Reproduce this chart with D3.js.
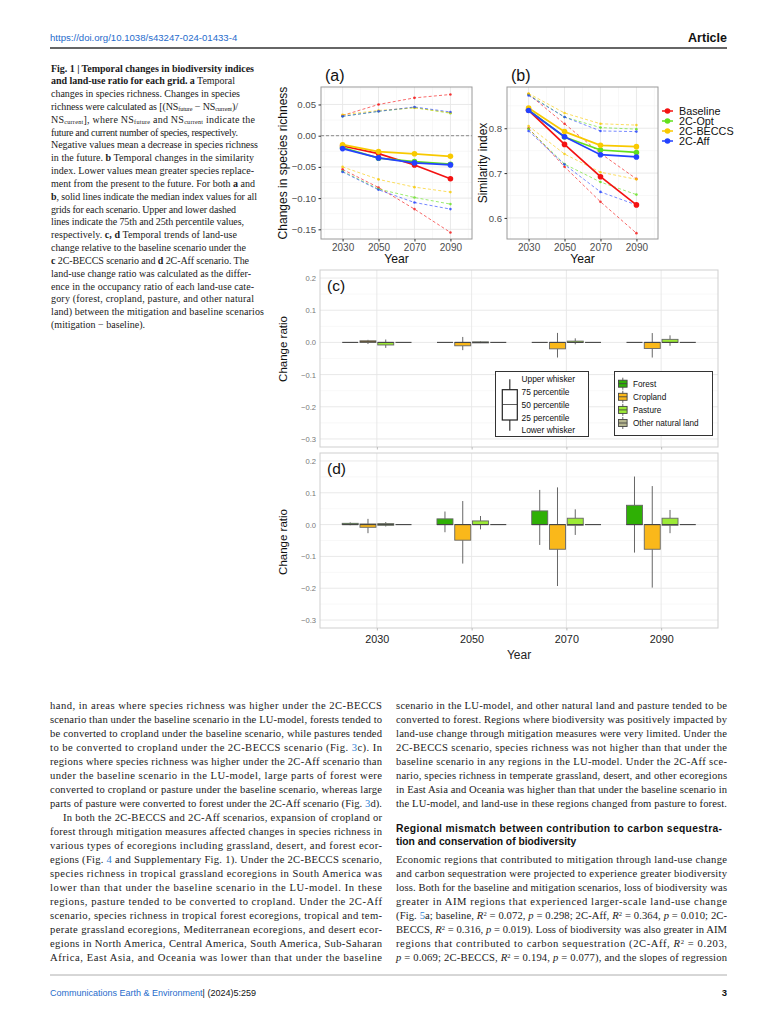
<!DOCTYPE html>
<html><head><meta charset="utf-8">
<script src="https://cdn.jsdelivr.net/npm/d3@7"></script>
<style>body{margin:0;background:#fff}svg{display:block}</style>
</head><body><svg id="page" width="771" height="1024"></svg>
<script>
// ---------------- DATA ----------------
const years = [2030, 2050, 2070, 2090];
const scenarios = ["Baseline", "2C-Opt", "2C-BECCS", "2C-Aff"];
const scenarioColors = ["#f41212", "#62e01c", "#f8c900", "#2342ff"];

// (a) changes in species richness: median, 75th, 25th percentile
const richMedian = {
  "Baseline": [-0.0165, -0.0287, -0.047, -0.069],
  "2C-Opt":   [-0.019, -0.036, -0.0415, -0.0457],
  "2C-BECCS": [-0.0144, -0.0255, -0.029, -0.033],
  "2C-Aff":   [-0.0207, -0.0356, -0.0436, -0.0468]
};
const richUpper = {
  "Baseline": [0.0324, 0.050, 0.0606, 0.066],
  "2C-Opt":   [0.031, 0.039, 0.045, 0.036],
  "2C-BECCS": [0.0335, 0.0404, 0.0447, 0.0367],
  "2C-Aff":   [0.031, 0.039, 0.046, 0.038]
};
const richLower = {
  "Baseline": [-0.054, -0.083, -0.1176, -0.155],
  "2C-Opt":   [-0.057, -0.0856, -0.099, -0.1096],
  "2C-BECCS": [-0.050, -0.070, -0.0824, -0.0904],
  "2C-Aff":   [-0.058, -0.0867, -0.107, -0.1176]
};
// (b) similarity index
const simMedian = {
  "Baseline": [0.840, 0.764, 0.692, 0.629],
  "2C-Opt":   [0.841, 0.7806, 0.7515, 0.746],
  "2C-BECCS": [0.845, 0.7925, 0.762, 0.759],
  "2C-Aff":   [0.8395, 0.781, 0.741, 0.736]
};
const simUpper = {
  "Baseline": [0.876, 0.810, 0.744, 0.687],
  "2C-Opt":   [0.875, 0.825, 0.8015, 0.798],
  "2C-BECCS": [0.8776, 0.834, 0.810, 0.807],
  "2C-Aff":   [0.873, 0.825, 0.794, 0.7925]
};
const simLower = {
  "Baseline": [0.800, 0.714, 0.636, 0.566],
  "2C-Opt":   [0.7985, 0.720, 0.680, 0.652],
  "2C-BECCS": [0.805, 0.7425, 0.702, 0.686],
  "2C-Aff":   [0.794, 0.719, 0.658, 0.629]
};
const richTicks = [-0.15, -0.10, -0.05, 0.00, 0.05];
const simTicks = [0.6, 0.7, 0.8];
const ratioTicks = [0.2, 0.1, 0.0, -0.1, -0.2, -0.3];

// (c),(d) land-use change ratio boxplots: [lower whisker, q1, median, q3, upper whisker]
const landTypes = ["Forest", "Cropland", "Pasture", "Other natural land"];
const landColors = ["#2fb005", "#fab81a", "#9cea36", "#b5b58e"];
const beccsForest   = [[0,0,0,0,0],[0,0,0,0,0],[0,0,0,0,0],[0,0,0,0,0]];
const beccsCropland = [[-0.005,0,0.002,0.005,0.008],[-0.024,-0.0105,0,0,0.017],[-0.047,-0.020,0,0,0.0295],[-0.047,-0.019,0,0,0.029]];
const beccsPasture  = [[-0.017,-0.008,0,0,0.009],[-0.002,-0.0015,0,0.0015,0.003],[-0.006,0,0,0.004,0.0126],[-0.0105,0,0,0.0095,0.022]];
const beccsOther    = [[0,0,0,0,0],[0,0,0,0,0],[0,0,0,0,0],[0,0,0,0,0]];
const affForest     = [[-0.002,0,0,0.004,0.007],[-0.024,0,0,0.018,0.041],[-0.064,0,0,0.043,0.109],[-0.088,0,0,0.0607,0.151]];
const affCropland   = [[-0.027,-0.0085,0,0.002,0.018],[-0.1225,-0.049,0,0,0.074],[-0.193,-0.0775,0,0,0.117],[-0.198,-0.0775,0,0,0.121]];
const affPasture    = [[-0.006,-0.002,0,0.003,0.008],[-0.015,0,0,0.0115,0.027],[-0.0325,-0.002,0,0.02,0.048],[-0.027,-0.002,0,0.02,0.046]];
const affOther      = [[0,0,0,0,0],[0,0,0,0,0],[0,0,0,0,0],[0,0,0,0,0]];
const boxLegendLabels = ["Upper whisker", "75 percentile", "50 percentile", "25 percentile", "Lower whisker"];

// ---------------- TEXT ----------------
const captionLines = [
  [["Fig. 1 | Temporal changes in biodiversity indices","b"]],
  [["and land-use ratio for each grid. a","b"],[" Temporal",""]],
  [["changes in species richness. Changes in species",""]],
  [["richness were calculated as [(NS",""],["future","sub"],[" − NS",""],["current","sub"],[")/",""]],
  [["NS",""],["current","sub"],["], where NS",""],["future","sub"],[" and NS",""],["current","sub"],[" indicate the",""]],
  [["future and current number of species, respectively.",""]],
  [["Negative values mean a decrease in species richness",""]],
  [["in the future. ",""],["b","b"],[" Temporal changes in the similarity",""]],
  [["index. Lower values mean greater species replace-",""]],
  [["ment from the present to the future. For both ",""],["a","b"],[" and",""]],
  [["b","b"],[", solid lines indicate the median index values for all",""]],
  [["grids for each scenario. Upper and lower dashed",""]],
  [["lines indicate the 75th and 25th percentile values,",""]],
  [["respectively. ",""],["c, d","b"],[" Temporal trends of land-use",""]],
  [["change relative to the baseline scenario under the",""]],
  [["c","b"],[" 2C-BECCS scenario and ",""],["d","b"],[" 2C-Aff scenario. The",""]],
  [["land-use change ratio was calculated as the differ-",""]],
  [["ence in the occupancy ratio of each land-use cate-",""]],
  [["gory (forest, cropland, pasture, and other natural",""]],
  [["land) between the mitigation and baseline scenarios",""]],
  [["(mitigation − baseline).",""]]
];
const captionWidths = [203,184,189,187,204,187,207,203,203,204,206,185,193,186,195,198,200,203,203,213,94];

const leftLines = [
  [["hand, in areas where species richness was higher under the 2C-BECCS",""]],
  [["scenario than under the baseline scenario in the LU-model, forests tended to",""]],
  [["be converted to cropland under the baseline scenario, while pastures tended",""]],
  [["to be converted to cropland under the 2C-BECCS scenario (Fig. ",""],["3","link"],["c). In",""]],
  [["regions where species richness was higher under the 2C-Aff scenario than",""]],
  [["under the baseline scenario in the LU-model, large parts of forest were",""]],
  [["converted to cropland or pasture under the baseline scenario, whereas large",""]],
  [["parts of pasture were converted to forest under the 2C-Aff scenario (Fig. ",""],["3","link"],["d).",""]],
  [["In both the 2C-BECCS and 2C-Aff scenarios, expansion of cropland or",""]],
  [["forest through mitigation measures affected changes in species richness in",""]],
  [["various types of ecoregions including grassland, desert, and forest ecor-",""]],
  [["egions (Fig. ",""],["4","link"],[" and Supplementary Fig. 1). Under the 2C-BECCS scenario,",""]],
  [["species richness in tropical grassland ecoregions in South America was",""]],
  [["lower than that under the baseline scenario in the LU-model. In these",""]],
  [["regions, pasture tended to be converted to cropland. Under the 2C-Aff",""]],
  [["scenario, species richness in tropical forest ecoregions, tropical and tem-",""]],
  [["perate grassland ecoregions, Mediterranean ecoregions, and desert ecor-",""]],
  [["egions in North America, Central America, South America, Sub-Saharan",""]],
  [["Africa, East Asia, and Oceania was lower than that under the baseline",""]]
];
const rightTopLines = [
  [["scenario in the LU-model, and other natural land and pasture tended to be",""]],
  [["converted to forest. Regions where biodiversity was positively impacted by",""]],
  [["land-use change through mitigation measures were very limited. Under the",""]],
  [["2C-BECCS scenario, species richness was not higher than that under the",""]],
  [["baseline scenario in any regions in the LU-model. Under the 2C-Aff sce-",""]],
  [["nario, species richness in temperate grassland, desert, and other ecoregions",""]],
  [["in East Asia and Oceania was higher than that under the baseline scenario in",""]],
  [["the LU-model, and land-use in these regions changed from pasture to forest.",""]]
];
const headingLines = ["Regional mismatch between contribution to carbon sequestra-", "tion and conservation of biodiversity"];
const rightBottomLines = [
  [["Economic regions that contributed to mitigation through land-use change",""]],
  [["and carbon sequestration were projected to experience greater biodiversity",""]],
  [["loss. Both for the baseline and mitigation scenarios, loss of biodiversity was",""]],
  [["greater in AIM regions that experienced larger-scale land-use change",""]],
  [["(Fig. ",""],["5","link"],["a; baseline, ",""],["R","i"],["2","sup"],[" = 0.072, ",""],["p","i"],[" = 0.298; 2C-Aff, ",""],["R","i"],["2","sup"],[" = 0.364, ",""],["p","i"],[" = 0.010; 2C-",""]],
  [["BECCS, ",""],["R","i"],["2","sup"],[" = 0.316, ",""],["p","i"],[" = 0.019). Loss of biodiversity was also greater in AIM",""]],
  [["regions that contributed to carbon sequestration (2C-Aff, ",""],["R","i"],["2","sup"],[" = 0.203,",""]],
  [["p","i"],[" = 0.069; 2C-BECCS, ",""],["R","i"],["2","sup"],[" = 0.194, ",""],["p","i"],[" = 0.077), and the slopes of regression",""]]
];

// ---------------- DRAW ----------------
const svg = d3.select("#page");
const SANS = "'Liberation Sans', Arial, Helvetica, sans-serif";
const SERIF = "'Liberation Serif', 'Times New Roman', serif";
const LINK = "#2f7fd3";

function richLine(parent, x, y, segs, size, width, opts = {}) {
  const t = parent.append("text").attr("x", x).attr("y", y)
    .attr("font-family", opts.family || SERIF).attr("font-size", size).attr("fill", "#1a1a1a");
  if (width) t.attr("textLength", width).attr("lengthAdjust", "spacing");
  segs.forEach(([s, c]) => {
    const ts = t.append("tspan").text(s);
    if (c === "b") ts.attr("font-weight", "bold");
    if (c === "i") ts.attr("font-style", "italic");
    if (c === "link") ts.attr("fill", LINK);
    if (c === "sub") ts.attr("font-size", size * 0.62).attr("baseline-shift", "-18%");
    if (c === "sup") ts.attr("font-size", size * 0.62).attr("baseline-shift", "38%");
  });
  return t;
}

// Header
svg.append("text").attr("x", 50).attr("y", 41).attr("font-family", SANS).attr("font-size", 9.6)
  .attr("fill", "#1f6ccc").text("https://doi.org/10.1038/s43247-024-01433-4");
svg.append("text").attr("x", 727).attr("y", 42).attr("text-anchor", "end").attr("font-family", SANS)
  .attr("font-size", 12.5).attr("font-weight", "bold").attr("fill", "#111").text("Article");
svg.append("line").attr("x1", 50).attr("x2", 727).attr("y1", 48).attr("y2", 48).attr("stroke", "#333").attr("stroke-width", 1.4);

// Caption
captionLines.forEach((segs, i) => richLine(svg, 51, 71.5 + i * 12.83, segs, 10, captionWidths[i]));

// Body
leftLines.forEach((segs, i) => {
  const indent = i === 8 ? 13 : 0;
  richLine(svg, 50 + indent, 708.5 + i * 14, segs, 10.6, 332 - indent);
});
rightTopLines.forEach((segs, i) => richLine(svg, 396, 708.5 + i * 14, segs, 10.6, 331));
headingLines.forEach((s, i) => {
  const t = svg.append("text").attr("x", 396).attr("y", 832 + i * 13.4).attr("font-family", SANS)
    .attr("font-size", 10.3).attr("font-weight", "bold").attr("fill", "#111").text(s);
  if (i === 0) t.attr("textLength", 326).attr("lengthAdjust", "spacing");
});
rightBottomLines.forEach((segs, i) => richLine(svg, 396, 862.5 + i * 14, segs, 10.6, 331));

// Footer
svg.append("line").attr("x1", 50).attr("x2", 727).attr("y1", 975).attr("y2", 975).attr("stroke", "#9a9a9a").attr("stroke-width", 0.8);
const ft = svg.append("text").attr("x", 50).attr("y", 996).attr("font-family", SANS).attr("font-size", 9);
ft.append("tspan").attr("fill", "#1f6ccc").text("Communications Earth & Environment");
ft.append("tspan").attr("fill", "#111").text("| (2024)5:259");
svg.append("text").attr("x", 727).attr("y", 996).attr("text-anchor", "end").attr("font-family", SANS)
  .attr("font-size", 9.5).attr("font-weight", "bold").attr("fill", "#111").text("3");

// ---------- line panels (a), (b) ----------
function linePanel(cfg) {
  const x = d3.scaleLinear().domain([2018, 2102]).range([cfg.x0, cfg.x1]);
  const y = d3.scaleLinear().domain(cfg.yd).range([cfg.y1, cfg.y0]);
  const g = svg.append("g");
  const minorX = [2020, 2040, 2060, 2080, 2100];
  g.selectAll(".mx").data(minorX).join("line").attr("x1", x).attr("x2", x).attr("y1", cfg.y0).attr("y2", cfg.y1)
    .attr("stroke", "#f3f3f3").attr("stroke-width", 0.6);
  g.selectAll(".my").data(cfg.minorY).join("line").attr("y1", y).attr("y2", y).attr("x1", cfg.x0).attr("x2", cfg.x1)
    .attr("stroke", "#f3f3f3").attr("stroke-width", 0.6);
  g.selectAll(".gx").data(years).join("line").attr("x1", x).attr("x2", x).attr("y1", cfg.y0).attr("y2", cfg.y1)
    .attr("stroke", "#e6e6e6").attr("stroke-width", 0.9);
  g.selectAll(".gy").data(cfg.ticks).join("line").attr("y1", y).attr("y2", y).attr("x1", cfg.x0).attr("x2", cfg.x1)
    .attr("stroke", "#e6e6e6").attr("stroke-width", 0.9);
  if (cfg.zeroLine) {
    g.append("line").attr("x1", cfg.x0).attr("x2", cfg.x1).attr("y1", y(0)).attr("y2", y(0))
      .attr("stroke", "#8a8a8a").attr("stroke-width", 1).attr("stroke-dasharray", "3,2");
  }
  const lineGen = d3.line().x((d, i) => x(years[i])).y(d => y(d));
  scenarios.forEach((s, k) => {
    [cfg.upper[s], cfg.lower[s]].forEach(vals => {
      g.append("path").attr("d", lineGen(vals)).attr("fill", "none").attr("stroke", scenarioColors[k])
        .attr("stroke-width", 0.9).attr("stroke-dasharray", "3,2.2").attr("opacity", 0.7);
      g.selectAll(null).data(vals).join("circle").attr("cx", (d, i) => x(years[i])).attr("cy", d => y(d))
        .attr("r", 1.3).attr("fill", scenarioColors[k]).attr("opacity", 0.8);
    });
  });
  scenarios.forEach((s, k) => {
    const vals = cfg.median[s];
    g.append("path").attr("d", lineGen(vals)).attr("fill", "none").attr("stroke", scenarioColors[k]).attr("stroke-width", 1.7);
    g.selectAll(null).data(vals).join("circle").attr("cx", (d, i) => x(years[i])).attr("cy", d => y(d))
      .attr("r", 2.8).attr("fill", scenarioColors[k]);
  });
  g.append("rect").attr("x", cfg.x0).attr("y", cfg.y0).attr("width", cfg.x1 - cfg.x0).attr("height", cfg.y1 - cfg.y0)
    .attr("fill", "none").attr("stroke", "#9a9a9a").attr("stroke-width", 1);
  const ay = g.append("g").attr("transform", `translate(${cfg.x0},0)`)
    .call(d3.axisLeft(y).tickValues(cfg.ticks).tickFormat(cfg.fmt).tickSize(2.5).tickPadding(2.5));
  const ax = g.append("g").attr("transform", `translate(0,${cfg.y1})`)
    .call(d3.axisBottom(x).tickValues(years).tickFormat(d3.format("d")).tickSize(2.5).tickPadding(2));
  [ay, ax].forEach(a => {
    a.select(".domain").remove();
    a.selectAll(".tick line").attr("stroke", "#333");
    a.selectAll("text").attr("font-family", SANS).attr("fill", "#4d4d4d");
  });
  ay.selectAll("text").attr("font-size", 9.6);
  ax.selectAll("text").attr("font-size", 10);
  g.append("text").attr("x", (cfg.x0 + cfg.x1) / 2).attr("y", 262.5).attr("text-anchor", "middle")
    .attr("font-family", SANS).attr("font-size", 12.2).attr("fill", "#111").text("Year");
  g.append("text").attr("transform", `translate(${cfg.ylabX},${(cfg.y0 + cfg.y1) / 2}) rotate(-90)`)
    .attr("text-anchor", "middle").attr("font-family", SANS).attr("font-size", 12).attr("fill", "#111").text(cfg.ylab);
  g.append("text").attr("x", cfg.x0 + 4).attr("y", 81).attr("font-family", SANS).attr("font-size", 16)
    .attr("fill", "#111").text(cfg.tag);
  return g;
}

linePanel({x0: 321, x1: 472, y0: 87, y1: 239, yd: [-0.1655, 0.078], ticks: richTicks,
  minorY: [-0.125, -0.075, -0.025, 0.025, 0.075], fmt: d3.format(".2f"),
  median: richMedian, upper: richUpper, lower: richLower, zeroLine: true,
  ylab: "Changes in species richness", ylabX: 287, tag: "(a)"});
linePanel({x0: 507, x1: 658, y0: 87, y1: 239, yd: [0.553, 0.892], ticks: simTicks,
  minorY: [0.65, 0.75, 0.85], fmt: d3.format(".1f"),
  median: simMedian, upper: simUpper, lower: simLower, zeroLine: false,
  ylab: "Similarity index", ylabX: 487, tag: "(b)"});

// legend for (b)
const leg = svg.append("g");
scenarios.forEach((s, k) => {
  const yy = 111 + k * 10;
  leg.append("line").attr("x1", 662).attr("x2", 673).attr("y1", yy).attr("y2", yy).attr("stroke", scenarioColors[k]).attr("stroke-width", 1.5);
  leg.append("circle").attr("cx", 667.5).attr("cy", yy).attr("r", 2.8).attr("fill", scenarioColors[k]);
  leg.append("text").attr("x", 679).attr("y", yy + 3.8).attr("font-family", SANS).attr("font-size", 10.8)
    .attr("fill", "#111").text(s);
});

// ---------- boxplot panels (c), (d) ----------
function boxPanel(cfg) {
  const x = d3.scalePoint().domain(years).range([320, 718]).padding(0.6);
  const y = d3.scaleLinear().domain([-0.325, 0.225]).range([cfg.y1, cfg.y0]);
  const g = svg.append("g");
  const minorY = [0.15, 0.05, -0.05, -0.15, -0.25];
  g.selectAll(".my").data(minorY).join("line").attr("y1", y).attr("y2", y).attr("x1", 320).attr("x2", 718)
    .attr("stroke", "#f3f3f3").attr("stroke-width", 0.6);
  g.selectAll(".gy").data(ratioTicks).join("line").attr("y1", y).attr("y2", y).attr("x1", 320).attr("x2", 718)
    .attr("stroke", "#e6e6e6").attr("stroke-width", 0.9);
  g.selectAll(".gx").data(years).join("line").attr("x1", x).attr("x2", x).attr("y1", cfg.y0).attr("y2", cfg.y1)
    .attr("stroke", "#e6e6e6").attr("stroke-width", 0.9);
  g.append("rect").attr("x", 320).attr("y", cfg.y0).attr("width", 398).attr("height", cfg.y1 - cfg.y0)
    .attr("fill", "none").attr("stroke", "#cfcfcf").attr("stroke-width", 1);
  const step = x.step();
  const slot = step * 0.75 / 4;
  const bw = slot * 0.9;
  cfg.sets.forEach((set, t) => {
    set.forEach((st, yi) => {
      const cx = x(years[yi]) + (t - 1.5) * slot;
      const [lw, q1, med, q3, uw] = st;
      g.append("line").attr("x1", cx).attr("x2", cx).attr("y1", y(uw)).attr("y2", y(q3)).attr("stroke", "#555").attr("stroke-width", 0.9);
      g.append("line").attr("x1", cx).attr("x2", cx).attr("y1", y(q1)).attr("y2", y(lw)).attr("stroke", "#555").attr("stroke-width", 0.9);
      g.append("rect").attr("x", cx - bw / 2).attr("y", y(q3)).attr("width", bw).attr("height", Math.max(0, y(q1) - y(q3)))
        .attr("fill", landColors[t]).attr("stroke", "#666").attr("stroke-width", 0.9);
      g.append("line").attr("x1", cx - bw / 2).attr("x2", cx + bw / 2).attr("y1", y(med)).attr("y2", y(med))
        .attr("stroke", "#444").attr("stroke-width", 1.1);
    });
  });
  const ay = g.append("g").attr("transform", "translate(320,0)")
    .call(d3.axisLeft(y).tickValues(ratioTicks).tickFormat(d3.format(".1f")).tickSize(0).tickPadding(4));
  ay.select(".domain").remove();
  ay.selectAll("text").attr("font-family", SANS).attr("font-size", 7.6).attr("fill", "#777");
  const ax = g.append("g").attr("transform", `translate(0,${cfg.y1})`)
    .call(d3.axisBottom(x).tickSize(2.5).tickPadding(5).tickFormat(cfg.xlabels ? d3.format("d") : () => ""));
  ax.select(".domain").remove();
  ax.selectAll(".tick line").attr("stroke", "#bbb");
  ax.selectAll("text").attr("font-family", SANS).attr("font-size", 10.8).attr("fill", "#222");
  g.append("text").attr("transform", `translate(287,${cfg.ylabY}) rotate(-90)`).attr("text-anchor", "middle")
    .attr("font-family", SANS).attr("font-size", 11.5).attr("fill", "#111").text("Change ratio");
  g.append("text").attr("x", 327).attr("y", cfg.y0 + 21).attr("font-family", SANS).attr("font-size", 15.5)
    .attr("fill", "#111").text(cfg.tag);
  if (cfg.xlabels) {
    g.append("text").attr("x", 519).attr("y", 658.5).attr("text-anchor", "middle").attr("font-family", SANS)
      .attr("font-size", 12).attr("fill", "#222").text("Year");
  }
  return g;
}

boxPanel({y0: 270, y1: 447, sets: [beccsForest, beccsCropland, beccsPasture, beccsOther], tag: "(c)", ylabY: 349, xlabels: false});
boxPanel({y0: 453, y1: 628, sets: [affForest, affCropland, affPasture, affOther], tag: "(d)", ylabY: 542, xlabels: true});

// legends in (c)
const lg = svg.append("g");
lg.append("rect").attr("x", 495.5).attr("y", 371.5).attr("width", 93).attr("height", 65)
  .attr("fill", "#fff").attr("stroke", "#333").attr("stroke-width", 1);
lg.append("line").attr("x1", 509.8).attr("x2", 509.8).attr("y1", 379.3).attr("y2", 430.7).attr("stroke", "#333").attr("stroke-width", 1.2);
lg.append("rect").attr("x", 502.3).attr("y", 389.7).attr("width", 15).attr("height", 30.3).attr("fill", "#fff").attr("stroke", "#222").attr("stroke-width", 1.2);
lg.append("line").attr("x1", 502.3).attr("x2", 517.3).attr("y1", 404.5).attr("y2", 404.5).attr("stroke", "#333").attr("stroke-width", 0.8);
boxLegendLabels.forEach((s, i) => {
  lg.append("text").attr("x", 521.5).attr("y", [382, 395, 408, 421, 433][i]).attr("font-family", SANS)
    .attr("font-size", 8.4).attr("fill", "#111").text(s);
});
lg.append("rect").attr("x", 614.5).attr("y", 371.5).attr("width", 98).attr("height", 64)
  .attr("fill", "#fff").attr("stroke", "#333").attr("stroke-width", 1);
landTypes.forEach((s, i) => {
  const yy = 383.7 + i * 13.1;
  lg.append("line").attr("x1", 622.8).attr("x2", 622.8).attr("y1", yy - 6).attr("y2", yy + 6).attr("stroke", "#555").attr("stroke-width", 0.9);
  lg.append("rect").attr("x", 618.5).attr("y", yy - 3.5).attr("width", 8.6).attr("height", 7)
    .attr("fill", landColors[i]).attr("stroke", "#444").attr("stroke-width", 0.9);
  lg.append("line").attr("x1", 618.5).attr("x2", 627.1).attr("y1", yy).attr("y2", yy).attr("stroke", "#444").attr("stroke-width", 0.9);
  lg.append("text").attr("x", 633).attr("y", yy + 3).attr("font-family", SANS).attr("font-size", 8.2)
    .attr("fill", "#111").text(s);
});
</script></body></html>
